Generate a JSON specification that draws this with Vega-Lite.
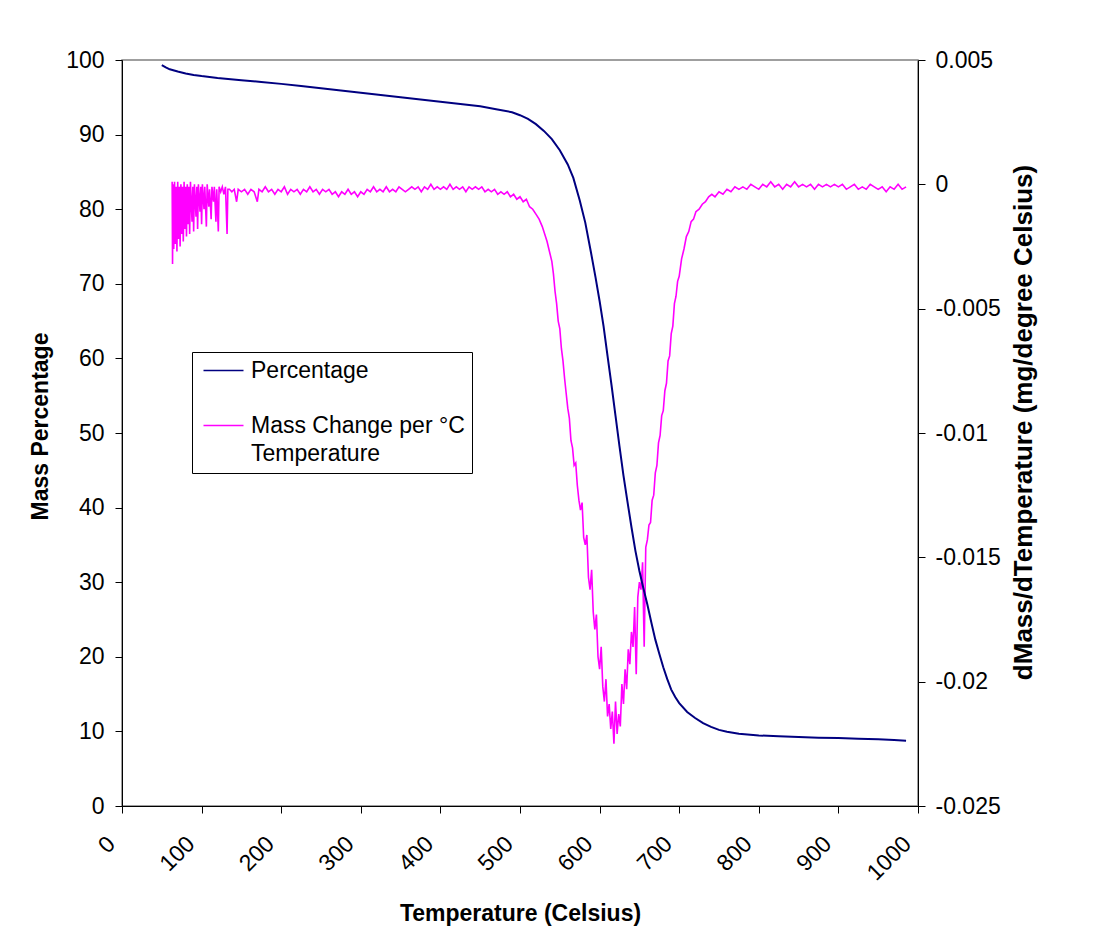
{
  "$schema": "https://vega.github.io/schema/vega-lite/v6.json",
  "width": 796,
  "height": 746,
  "autosize": "none",
  "padding": {"left": 122, "top": 60, "right": 182, "bottom": 139},
  "background": "white",
  "config": {
    "font": "Liberation Sans",
    "view": {"stroke": "#808080", "strokeWidth": 1.5},
    "style": {"guide-label": {"lineHeight": 28}},
    "axis": {
      "domainColor": "black", "tickColor": "black", "labelColor": "black", "titleColor": "black",
      "labelFont": "Liberation Sans", "titleFont": "Liberation Sans",
      "labelFontSize": 23, "titleFontSize": 23, "titleFontWeight": "bold",
      "grid": false, "tickSize": 7, "domainWidth": 1, "tickWidth": 1
    },
    "legend": {"labelFont": "Liberation Sans", "labelFontSize": 23, "labelColor": "black"}
  },
  "datasets": {
    "pct": [
      {"T": 50, "pct": 99.3}, {"T": 55, "pct": 99.0}, {"T": 60, "pct": 98.75}, {"T": 70, "pct": 98.45},
      {"T": 80, "pct": 98.2}, {"T": 90, "pct": 98.0}, {"T": 100, "pct": 97.85}, {"T": 120, "pct": 97.6},
      {"T": 150, "pct": 97.3}, {"T": 175, "pct": 97.05}, {"T": 200, "pct": 96.8}, {"T": 225, "pct": 96.5},
      {"T": 250, "pct": 96.2}, {"T": 275, "pct": 95.9}, {"T": 300, "pct": 95.6}, {"T": 325, "pct": 95.3},
      {"T": 350, "pct": 95.0}, {"T": 375, "pct": 94.7}, {"T": 400, "pct": 94.4}, {"T": 425, "pct": 94.1},
      {"T": 450, "pct": 93.8}, {"T": 470, "pct": 93.4}, {"T": 490, "pct": 93.0}, {"T": 500, "pct": 92.6},
      {"T": 510, "pct": 92.1}, {"T": 520, "pct": 91.4}, {"T": 530, "pct": 90.5}, {"T": 540, "pct": 89.4},
      {"T": 550, "pct": 87.9}, {"T": 560, "pct": 86.0}, {"T": 567, "pct": 84.2}, {"T": 575, "pct": 81.2},
      {"T": 582, "pct": 78.2}, {"T": 589, "pct": 74.3}, {"T": 595, "pct": 70.8}, {"T": 600, "pct": 67.7},
      {"T": 605, "pct": 64.3}, {"T": 610, "pct": 60.3}, {"T": 615, "pct": 56.4}, {"T": 620, "pct": 52.3},
      {"T": 625, "pct": 48.2}, {"T": 630, "pct": 44.3}, {"T": 635, "pct": 40.8}, {"T": 640, "pct": 37.4},
      {"T": 645, "pct": 34.2}, {"T": 650, "pct": 31.5}, {"T": 655, "pct": 29.2}, {"T": 660, "pct": 27.0},
      {"T": 665, "pct": 24.6}, {"T": 670, "pct": 22.3}, {"T": 675, "pct": 20.4}, {"T": 680, "pct": 18.6},
      {"T": 685, "pct": 17.0}, {"T": 690, "pct": 15.6}, {"T": 695, "pct": 14.6}, {"T": 700, "pct": 13.8},
      {"T": 710, "pct": 12.6}, {"T": 720, "pct": 11.8}, {"T": 730, "pct": 11.1}, {"T": 740, "pct": 10.6},
      {"T": 750, "pct": 10.2}, {"T": 760, "pct": 9.95}, {"T": 775, "pct": 9.7}, {"T": 800, "pct": 9.45},
      {"T": 825, "pct": 9.35}, {"T": 850, "pct": 9.25}, {"T": 875, "pct": 9.15}, {"T": 900, "pct": 9.1},
      {"T": 925, "pct": 9.0}, {"T": 950, "pct": 8.95}, {"T": 970, "pct": 8.85}, {"T": 985, "pct": 8.75}
    ],
    "dm": [
      {"T": 63, "dm": 0.0001}, {"T": 63.5, "dm": -0.0032}, {"T": 64, "dm": 0.0}, {"T": 65, "dm": -0.0026},
      {"T": 66, "dm": 0.0001}, {"T": 67, "dm": -0.0024}, {"T": 68, "dm": -0.0001}, {"T": 69, "dm": -0.0027},
      {"T": 70, "dm": 0.0001}, {"T": 71, "dm": -0.0022}, {"T": 72, "dm": -0.0001}, {"T": 73, "dm": -0.0025},
      {"T": 74, "dm": 0.0}, {"T": 75, "dm": -0.002}, {"T": 76, "dm": -0.0001}, {"T": 77, "dm": -0.0023},
      {"T": 78, "dm": 0.0001}, {"T": 79, "dm": -0.0018}, {"T": 80, "dm": -0.0001}, {"T": 81, "dm": -0.0021},
      {"T": 82, "dm": 0.0}, {"T": 83, "dm": -0.0016}, {"T": 84, "dm": -0.0001}, {"T": 85, "dm": -0.002},
      {"T": 86, "dm": 0.0001}, {"T": 88, "dm": -0.0015}, {"T": 89, "dm": -0.0001}, {"T": 90, "dm": -0.0019},
      {"T": 91, "dm": 0.0}, {"T": 93, "dm": -0.0013}, {"T": 94, "dm": -0.0001}, {"T": 95, "dm": -0.0018},
      {"T": 96, "dm": 0.0}, {"T": 98, "dm": -0.0011}, {"T": 99, "dm": -0.0001}, {"T": 100, "dm": -0.0016},
      {"T": 101, "dm": 0.0}, {"T": 103, "dm": -0.001}, {"T": 104, "dm": -0.0001}, {"T": 106, "dm": -0.0017},
      {"T": 107, "dm": 0.0}, {"T": 109, "dm": -0.0009}, {"T": 110, "dm": -0.0002}, {"T": 112, "dm": -0.0014},
      {"T": 113, "dm": -0.0001}, {"T": 115, "dm": -0.0007}, {"T": 116, "dm": -0.0001}, {"T": 118, "dm": -0.0015},
      {"T": 119, "dm": -0.0002}, {"T": 121, "dm": -0.0019}, {"T": 122, "dm": -0.0001}, {"T": 124, "dm": -0.0003},
      {"T": 126, "dm": -0.0001}, {"T": 128, "dm": -0.0004}, {"T": 130, "dm": -0.0001}, {"T": 132, "dm": -0.002},
      {"T": 133, "dm": -0.0002}, {"T": 135, "dm": -0.0002}, {"T": 138, "dm": -0.0003}, {"T": 141, "dm": -0.0002},
      {"T": 144, "dm": -0.0007}, {"T": 146, "dm": -0.0002}, {"T": 150, "dm": -0.0003}, {"T": 154, "dm": -0.0002},
      {"T": 158, "dm": -0.0004}, {"T": 162, "dm": -0.0002}, {"T": 166, "dm": -0.0003}, {"T": 170, "dm": -0.0007},
      {"T": 172, "dm": -0.0002}, {"T": 176, "dm": -0.0003}, {"T": 180, "dm": -0.0001}, {"T": 184, "dm": -0.0003},
      {"T": 188, "dm": -0.0002}, {"T": 192, "dm": -0.0004}, {"T": 196, "dm": -0.0002}, {"T": 200, "dm": -0.0003},
      {"T": 204, "dm": -0.0001}, {"T": 208, "dm": -0.0004}, {"T": 212, "dm": -0.0002}, {"T": 216, "dm": -0.0003},
      {"T": 220, "dm": -0.0002}, {"T": 224, "dm": -0.0004}, {"T": 228, "dm": -0.0002}, {"T": 232, "dm": -0.0003},
      {"T": 236, "dm": -0.0001}, {"T": 240, "dm": -0.0003}, {"T": 244, "dm": -0.0002}, {"T": 248, "dm": -0.0004},
      {"T": 252, "dm": -0.0002}, {"T": 256, "dm": -0.0003}, {"T": 260, "dm": -0.0002}, {"T": 264, "dm": -0.0004},
      {"T": 268, "dm": -0.0003}, {"T": 272, "dm": -0.0005}, {"T": 276, "dm": -0.0003}, {"T": 280, "dm": -0.0004},
      {"T": 284, "dm": -0.0002}, {"T": 288, "dm": -0.0004}, {"T": 292, "dm": -0.0003}, {"T": 296, "dm": -0.0005},
      {"T": 300, "dm": -0.0003}, {"T": 304, "dm": -0.0004}, {"T": 308, "dm": -0.0002}, {"T": 312, "dm": -0.0003},
      {"T": 316, "dm": -0.0001}, {"T": 320, "dm": -0.0003}, {"T": 324, "dm": -0.0002}, {"T": 328, "dm": -0.0003},
      {"T": 332, "dm": -0.0001}, {"T": 336, "dm": -0.0003}, {"T": 340, "dm": -0.0002}, {"T": 344, "dm": -0.0003},
      {"T": 348, "dm": -0.0001}, {"T": 352, "dm": -0.0002}, {"T": 356, "dm": -0.0003}, {"T": 360, "dm": -0.0002},
      {"T": 364, "dm": -0.0001}, {"T": 368, "dm": -0.0002}, {"T": 372, "dm": -0.0001}, {"T": 376, "dm": -0.0003},
      {"T": 380, "dm": -0.0001}, {"T": 384, "dm": -0.0002}, {"T": 388, "dm": 0.0}, {"T": 392, "dm": -0.0002},
      {"T": 396, "dm": -0.0001}, {"T": 400, "dm": -0.0002}, {"T": 404, "dm": -0.0001}, {"T": 408, "dm": -0.0002},
      {"T": 412, "dm": 0.0}, {"T": 416, "dm": -0.0002}, {"T": 420, "dm": -0.0001}, {"T": 424, "dm": -0.0002},
      {"T": 428, "dm": -0.0001}, {"T": 432, "dm": -0.0003}, {"T": 436, "dm": -0.0001}, {"T": 440, "dm": -0.0002},
      {"T": 444, "dm": -0.0001}, {"T": 448, "dm": -0.0002}, {"T": 452, "dm": -0.0001}, {"T": 456, "dm": -0.0003},
      {"T": 460, "dm": -0.0002}, {"T": 464, "dm": -0.0003}, {"T": 468, "dm": -0.0002}, {"T": 472, "dm": -0.0004},
      {"T": 476, "dm": -0.0003}, {"T": 480, "dm": -0.0004}, {"T": 484, "dm": -0.0003}, {"T": 488, "dm": -0.0005},
      {"T": 492, "dm": -0.0004}, {"T": 496, "dm": -0.0006}, {"T": 500, "dm": -0.0005}, {"T": 504, "dm": -0.0007},
      {"T": 508, "dm": -0.0006}, {"T": 512, "dm": -0.0009}, {"T": 516, "dm": -0.001}, {"T": 520, "dm": -0.0012},
      {"T": 524, "dm": -0.0014}, {"T": 528, "dm": -0.0017}, {"T": 531, "dm": -0.002}, {"T": 534, "dm": -0.0023},
      {"T": 537, "dm": -0.0027}, {"T": 540, "dm": -0.0031}, {"T": 542, "dm": -0.0036}, {"T": 544, "dm": -0.0043},
      {"T": 546, "dm": -0.0048}, {"T": 548, "dm": -0.0055}, {"T": 550, "dm": -0.0058}, {"T": 552, "dm": -0.0066},
      {"T": 554, "dm": -0.0071}, {"T": 556, "dm": -0.0078}, {"T": 558, "dm": -0.0084}, {"T": 560, "dm": -0.009},
      {"T": 562, "dm": -0.0094}, {"T": 564, "dm": -0.0103}, {"T": 566, "dm": -0.0106}, {"T": 568, "dm": -0.0113},
      {"T": 570, "dm": -0.0112}, {"T": 572, "dm": -0.0121}, {"T": 574, "dm": -0.0127}, {"T": 576, "dm": -0.0131},
      {"T": 578, "dm": -0.0128}, {"T": 580, "dm": -0.0142}, {"T": 582, "dm": -0.0145}, {"T": 584, "dm": -0.0141},
      {"T": 586, "dm": -0.0158}, {"T": 588, "dm": -0.0163}, {"T": 590, "dm": -0.0155}, {"T": 592, "dm": -0.0172},
      {"T": 594, "dm": -0.0179}, {"T": 596, "dm": -0.0173}, {"T": 598, "dm": -0.019}, {"T": 600, "dm": -0.0195},
      {"T": 602, "dm": -0.0186}, {"T": 604, "dm": -0.0202}, {"T": 606, "dm": -0.0208}, {"T": 608, "dm": -0.0199},
      {"T": 610, "dm": -0.0214}, {"T": 612, "dm": -0.0209}, {"T": 614, "dm": -0.0219}, {"T": 616, "dm": -0.0212},
      {"T": 618, "dm": -0.0225}, {"T": 620, "dm": -0.0208}, {"T": 622, "dm": -0.0221}, {"T": 624, "dm": -0.0213},
      {"T": 626, "dm": -0.0218}, {"T": 628, "dm": -0.0201}, {"T": 630, "dm": -0.0209}, {"T": 632, "dm": -0.0195},
      {"T": 634, "dm": -0.0203}, {"T": 636, "dm": -0.0187}, {"T": 638, "dm": -0.0193}, {"T": 640, "dm": -0.018},
      {"T": 642, "dm": -0.0186}, {"T": 644, "dm": -0.017}, {"T": 646, "dm": -0.0197}, {"T": 648, "dm": -0.0166},
      {"T": 650, "dm": -0.016}, {"T": 652, "dm": -0.0163}, {"T": 654, "dm": -0.0152}, {"T": 656, "dm": -0.0186},
      {"T": 658, "dm": -0.0146}, {"T": 660, "dm": -0.0143}, {"T": 662, "dm": -0.0137}, {"T": 664, "dm": -0.0136},
      {"T": 666, "dm": -0.0127}, {"T": 668, "dm": -0.0125}, {"T": 670, "dm": -0.0116}, {"T": 672, "dm": -0.0113},
      {"T": 674, "dm": -0.0104}, {"T": 676, "dm": -0.0101}, {"T": 678, "dm": -0.0093}, {"T": 680, "dm": -0.0091},
      {"T": 682, "dm": -0.0083}, {"T": 684, "dm": -0.008}, {"T": 686, "dm": -0.0071}, {"T": 688, "dm": -0.0069},
      {"T": 690, "dm": -0.006}, {"T": 692, "dm": -0.0057}, {"T": 694, "dm": -0.0048}, {"T": 696, "dm": -0.0045},
      {"T": 698, "dm": -0.0039}, {"T": 700, "dm": -0.0037}, {"T": 703, "dm": -0.003}, {"T": 706, "dm": -0.0026},
      {"T": 709, "dm": -0.0021}, {"T": 712, "dm": -0.0019}, {"T": 715, "dm": -0.0015}, {"T": 718, "dm": -0.0014},
      {"T": 721, "dm": -0.0011}, {"T": 725, "dm": -0.001}, {"T": 729, "dm": -0.0008}, {"T": 733, "dm": -0.0007},
      {"T": 737, "dm": -0.0005}, {"T": 741, "dm": -0.0004}, {"T": 745, "dm": -0.0005}, {"T": 750, "dm": -0.0003},
      {"T": 755, "dm": -0.0004}, {"T": 760, "dm": -0.0002}, {"T": 765, "dm": -0.0003}, {"T": 770, "dm": -0.0001},
      {"T": 775, "dm": -0.0002}, {"T": 780, "dm": -0.0001}, {"T": 785, "dm": -0.0002}, {"T": 790, "dm": 0.0},
      {"T": 795, "dm": -0.0001}, {"T": 800, "dm": -0.0002}, {"T": 805, "dm": 0.0}, {"T": 810, "dm": -0.0001},
      {"T": 815, "dm": 0.0001}, {"T": 820, "dm": -0.0001}, {"T": 825, "dm": 0.0}, {"T": 830, "dm": -0.0002},
      {"T": 835, "dm": 0.0}, {"T": 840, "dm": -0.0001}, {"T": 845, "dm": 0.0001}, {"T": 850, "dm": -0.0001},
      {"T": 855, "dm": 0.0}, {"T": 860, "dm": -0.0001}, {"T": 865, "dm": 0.0}, {"T": 870, "dm": -0.0002},
      {"T": 875, "dm": 0.0}, {"T": 880, "dm": -0.0001}, {"T": 885, "dm": 0.0}, {"T": 890, "dm": -0.0001},
      {"T": 895, "dm": 0.0}, {"T": 900, "dm": -0.0001}, {"T": 905, "dm": 0.0}, {"T": 910, "dm": -0.0002},
      {"T": 915, "dm": -0.0001}, {"T": 920, "dm": 0.0}, {"T": 925, "dm": -0.0002}, {"T": 930, "dm": -0.0001},
      {"T": 935, "dm": -0.0002}, {"T": 940, "dm": 0.0}, {"T": 945, "dm": -0.0001}, {"T": 950, "dm": -0.0002},
      {"T": 955, "dm": -0.0001}, {"T": 960, "dm": -0.0003}, {"T": 965, "dm": -0.0001}, {"T": 970, "dm": -0.0002},
      {"T": 975, "dm": 0.0}, {"T": 980, "dm": -0.0002}, {"T": 985, "dm": -0.0001}
    ]
  },
  "layer": [
    {
      "data": {"name": "dm"},
      "mark": {"type": "line", "strokeWidth": 1.6},
      "encoding": {
        "x": {
          "field": "T", "type": "quantitative",
          "scale": {"domain": [0, 1000], "nice": false},
          "axis": {
            "values": [0, 100, 200, 300, 400, 500, 600, 700, 800, 900, 1000],
            "format": "d", "labelAngle": -45, "labelAlign": "right", "labelBaseline": "middle",
            "labelOffset": -11, "labelPadding": 27,
            "title": "Temperature (Celsius)", "titleBaseline": "top", "titleY": 96
          }
        },
        "y": {
          "field": "dm", "type": "quantitative",
          "scale": {"domain": [-0.025, 0.005], "nice": false, "zero": false},
          "axis": {
            "orient": "right",
            "values": [-0.025, -0.02, -0.015, -0.01, -0.005, 0, 0.005],
            "labelExpr": "'' + datum.value",
            "labelPadding": 10,
            "title": "dMass/dTemperature (mg/degree Celsius)",
            "titleFontSize": 26, "titleLimit": 900,
            "titleAngle": 270, "titleBaseline": "bottom", "titleX": 118, "titleY": 362
          }
        },
        "color": {
          "datum": "Mass Change per °C Temperature", "type": "nominal",
          "scale": {"domain": ["Percentage", "Mass Change per °C Temperature"], "range": ["#000080", "#FF00FF"]},
          "legend": {
            "orient": "none", "legendX": 70, "legendY": 292, "title": null,
            "strokeColor": "black", "fillColor": "white", "padding": 7,
            "symbolType": "M-2,0L2,0", "symbolSize": 400, "symbolStrokeWidth": 1.5, "symbolOffset": 13,
            "labelLimit": 400, "labelOffset": 16, "rowPadding": 31,
            "labelExpr": "datum.label == 'Mass Change per °C Temperature' ? ['Mass Change per °C', 'Temperature'] : datum.label"
          }
        }
      }
    },
    {
      "data": {"name": "pct"},
      "mark": {"type": "line", "strokeWidth": 2},
      "encoding": {
        "x": {"field": "T", "type": "quantitative"},
        "y": {
          "field": "pct", "type": "quantitative",
          "scale": {"domain": [0, 100], "nice": false},
          "axis": {
            "orient": "left",
            "values": [0, 10, 20, 30, 40, 50, 60, 70, 80, 90, 100],
            "labelPadding": 11,
            "title": "Mass Percentage",
            "titleAngle": 270, "titleBaseline": "bottom", "titleX": -70, "titleY": 366
          }
        },
        "color": {"datum": "Percentage", "type": "nominal"}
      }
    }
  ],
  "resolve": {"scale": {"y": "independent"}}
}
